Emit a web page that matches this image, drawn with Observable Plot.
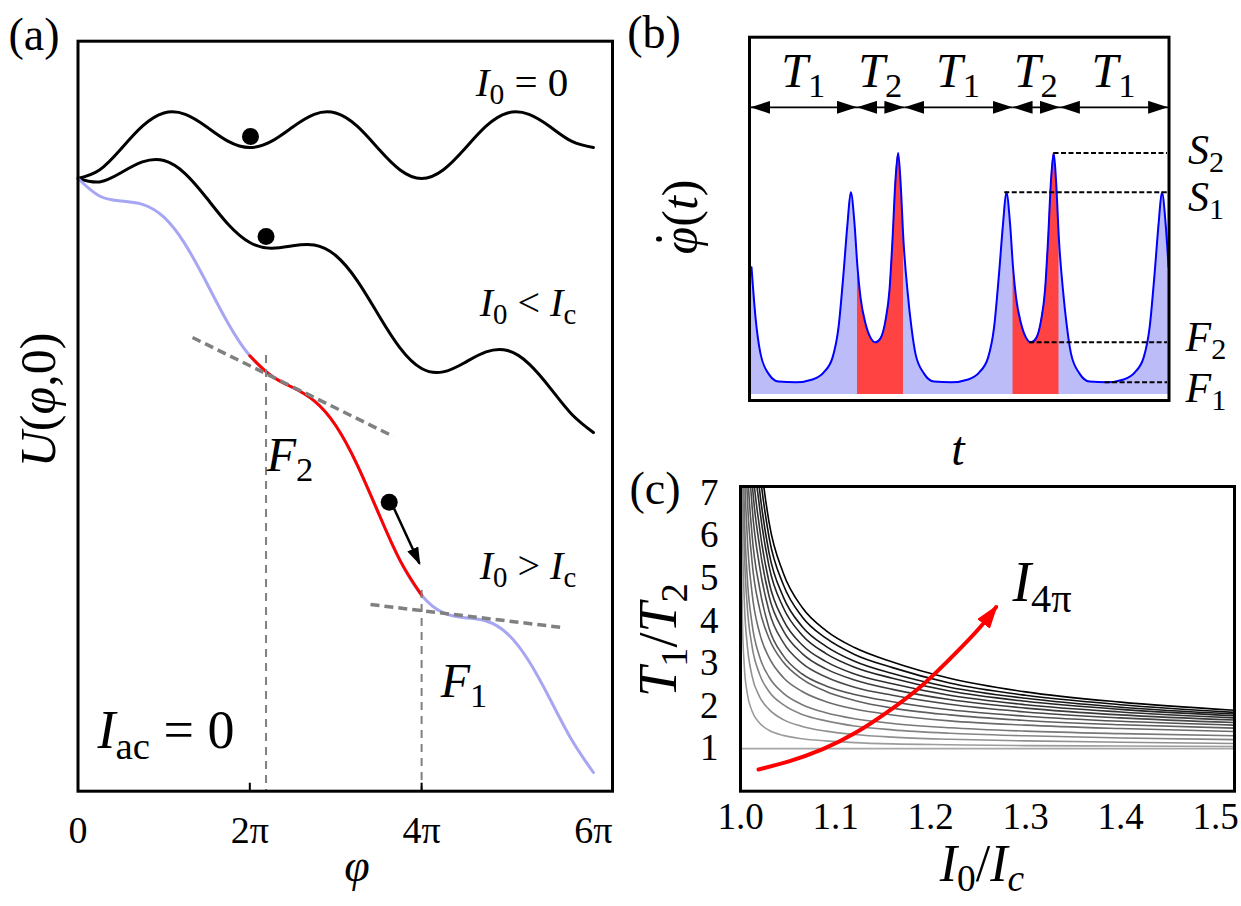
<!DOCTYPE html>
<html><head><meta charset="utf-8">
<script src="https://cdn.jsdelivr.net/npm/d3@7"></script>
<script src="https://cdn.jsdelivr.net/npm/@observablehq/plot@0.6"></script>
<style>
body{margin:0;background:#fff;}
#fig{position:relative;width:1241px;height:906px;overflow:hidden;font-family:"Liberation Serif","DejaVu Serif",serif;background:#fff;}
.panel{position:absolute;}
.lbl{position:absolute;white-space:nowrap;transform:translate(-50%,-50%);line-height:1;color:#000;}
.lbl sub{font-size:0.72em;vertical-align:-0.28em;line-height:0;font-style:normal;}
.lbl sub i{font-style:italic;}
.dotc{position:relative;display:inline-block;}
.dotc b{position:absolute;left:0.25em;top:0.02em;width:0.11em;height:0.11em;border-radius:50%;background:#000;}
</style></head><body><div id="fig"></div>
<script>
// ---------- Panel (a): potential U(phi,0), phi in units of pi ----------
const phi = [0,0.25,0.5,0.75,1,1.25,1.5,1.75,2,2.25,2.5,2.75,3,3.25,3.5,3.75,4,4.25,4.5,4.75,5,5.25,5.5,5.75,6];
const U_I0zero = [0,0.085,0.295,0.523,0.655,0.641,0.515,0.371,0.31,0.371,0.515,0.641,0.655,0.523,0.295,0.085,0,0.085,0.295,0.523,0.655,0.641,0.515,0.371,0.31];
const U_below = [0,-0.034,0.058,0.166,0.18,0.047,-0.198,-0.46,-0.64,-0.697,-0.673,-0.665,-0.77,-1.021,-1.367,-1.696,-1.9,-1.934,-1.842,-1.734,-1.72,-1.853,-2.098,-2.36,-2.54];
const U_above = [0,-0.175,-0.225,-0.259,-0.387,-0.661,-1.048,-1.452,-1.773,-1.972,-2.09,-2.224,-2.47,-2.863,-3.35,-3.821,-4.167,-4.342,-4.392,-4.425,-4.553,-4.828,-5.215,-5.618,-5.94];
const redRange = [2, 4];               // red part of the I0>Ic curve (phi/pi)
const tanStartPhi = [1.333, 3.405], tanStartU = [-1.59, -4.26];
const tanEndPhi = [3.673, 5.64],   tanEndU = [-2.58, -4.49];
const dropPhi = [2.189, 4.0], dropTopU = [-1.77, -4.12];
const ballPhi = [2.008, 2.189, 3.623], ballU = [0.42, -0.58, -3.237];
const kickPhi = [3.679, 3.975], kickU = [-3.30, -3.85];
const phiTicks = [0, 2, 4, 6];
const phiMinorTicks = [2, 4];

// ---------- Panel (b): phase velocity vs t ----------
const tB = [0.20,0.60,1.10,1.90,2.90,4.60,6.31,7.41,8.31,8.91,9.41,9.81,10.14,10.51,10.81,11.11,11.61,12.11,12.61,13.11,13.61,14.01,14.31,14.61,14.88,15.11,15.41,15.81,16.21,16.61,
 17.47,18.47,20.17,21.88,22.98,23.88,24.48,24.98,25.38,25.71,26.08,26.38,26.68,27.18,27.68,28.18,28.68,29.18,29.58,29.88,30.18,30.45,30.68,30.98,31.38,31.78,32.18,
 33.04,34.04,35.74,37.45,38.55,39.45,40.05,40.55,40.95,41.28,41.65,41.95];
const vB = [3.67,2.29,1.29,0.74,0.52,0.50,0.58,0.77,1.18,2.01,3.50,4.87,5.73,4.87,3.66,2.84,2.12,1.73,1.60,1.71,2.20,3.03,4.40,6.06,6.81,6.06,4.40,3.03,2.01,1.29,
 0.74,0.52,0.50,0.58,0.77,1.18,2.01,3.50,4.87,5.73,4.87,3.66,2.84,2.12,1.73,1.60,1.71,2.20,3.03,4.40,6.06,6.81,6.06,4.40,3.03,2.01,1.29,
 0.74,0.52,0.50,0.58,0.77,1.18,2.01,3.50,4.87,5.73,4.87,3.66];
const fillBase = 0.165;
const redSpansStart = [10.81, 26.38], redSpansEnd = [15.41, 30.98];
const levelNames = ["S2","S1","F2","F1"];
const levelV = [6.81, 5.73, 1.60, 0.50];
const levelFrom = [30.43, 25.5, 27.99, 35.54];
const levelTo = 41.79;
const levelLabelY = [150, 197, 337, 388];
const spanEdges = [0.1, 10.76, 15.5, 26.33, 31.07, 41.9];
const spanNames = ["1","2","1","2","1"];
const spanLevel = 8.07;

// ---------- Panel (c): T1/T2 vs I0/Ic ----------
const cX = [1.001,1.002,1.004,1.007,1.012,1.02,1.03,1.045,1.065,1.09,1.12,1.16,1.22,1.3,1.4,1.52];
const c0 = [1,1,1,1,1,1,1,1,1,1,1,1,1,1,1,1];
const c1 = [5.58,4.01,2.93,2.31,1.89,1.60,1.43,1.31,1.23,1.18,1.14,1.11,1.09,1.07,1.06,1.05];
const c2 = [8.73,6.22,4.46,3.45,2.72,2.22,1.92,1.68,1.52,1.41,1.33,1.27,1.22,1.18,1.15,1.12];
const c3 = [11.22,7.98,5.70,4.37,3.42,2.75,2.34,2.03,1.80,1.65,1.53,1.44,1.36,1.30,1.25,1.21];
const c4 = [13.05,9.26,6.61,5.06,3.95,3.16,2.68,2.30,2.03,1.84,1.70,1.59,1.49,1.41,1.35,1.30];
const c5 = [15.61,11.08,7.89,6.03,4.68,3.72,3.14,2.67,2.34,2.10,1.93,1.79,1.65,1.55,1.47,1.40];
const c6 = [18.22,12.92,9.18,7.00,5.42,4.29,3.59,3.03,2.63,2.34,2.13,1.95,1.79,1.66,1.56,1.48];
const c7 = [20.49,14.52,10.32,7.85,6.06,4.78,3.83,3.18,2.75,2.47,2.27,2.10,1.91,1.76,1.64,1.55];
const c8 = [22.87,16.20,11.50,8.74,6.74,5.29,4.23,3.49,3.00,2.68,2.44,2.25,2.04,1.86,1.72,1.61];
const c9 = [25.02,17.72,12.57,9.55,7.35,5.76,4.58,3.77,3.23,2.87,2.61,2.39,2.15,1.95,1.79,1.67];
const c10 = [27.01,19.13,13.57,10.29,7.91,6.19,4.91,4.02,3.43,3.04,2.75,2.52,2.25,2.03,1.86,1.72];
const c11 = [29.23,20.70,14.67,11.12,8.54,6.67,5.28,4.31,3.66,3.23,2.91,2.65,2.35,2.11,1.92,1.77];
const c12 = [31.23,22.10,15.66,11.86,9.10,7.09,5.60,4.56,3.86,3.40,3.05,2.76,2.44,2.18,1.97,1.81];
const c13 = [33.54,23.73,16.80,12.73,9.75,7.59,5.97,4.85,4.09,3.59,3.21,2.90,2.54,2.25,2.03,1.85];
const c14 = [35.61,25.18,17.82,13.50,10.34,8.04,6.32,5.12,4.31,3.77,3.37,3.03,2.65,2.33,2.09,1.90];
const curvesC = [c0,c1,c2,c3,c4,c5,c6,c7,c8,c9,c10,c11,c12,c13,c14];
const arrowX = [1.019,1.051,1.086,1.121,1.156,1.192,1.227,1.252,1.269];
const arrowY = [0.51,0.70,0.98,1.37,1.88,2.50,3.25,3.84,4.32];
const cXTicks = [1.0,1.1,1.2,1.3,1.4,1.5];
const cYTicks = [1,2,3,4,5,6,7];

// ---------- helpers ----------
const SVGNS = "http://www.w3.org/2000/svg";
function headMarker(len, hw, over) {
  return (color, context) => {
    const doc = (context && context.document) || document;
    const m = doc.createElementNS(SVGNS, "marker");
    m.setAttribute("viewBox", `${-len + over} ${-hw} ${len} ${2 * hw}`);
    m.setAttribute("markerWidth", len);
    m.setAttribute("markerHeight", 2 * hw);
    m.setAttribute("markerUnits", "userSpaceOnUse");
    m.setAttribute("orient", "auto-start-reverse");
    m.setAttribute("refX", 0);
    m.setAttribute("refY", 0);
    const p = doc.createElementNS(SVGNS, "path");
    p.setAttribute("d", `M${-len + over},${-hw}L${over},0L${-len + over},${hw}Z`);
    p.setAttribute("fill", color);
    p.setAttribute("stroke", "none");
    m.appendChild(p);
    return m;
  };
}
const fig = document.getElementById("fig");
function place(node, left, top) {
  const w = document.createElement("div");
  w.className = "panel"; w.style.left = left + "px"; w.style.top = top + "px";
  w.appendChild(node); fig.appendChild(w);
}
function label(x, y, html, size, rot) {
  const d = document.createElement("div");
  d.className = "lbl";
  d.style.left = x + "px"; d.style.top = y + "px"; d.style.fontSize = size + "px";
  if (rot) d.style.transform = "translate(-50%,-50%) rotate(-90deg)";
  d.innerHTML = html;
  fig.appendChild(d);
}
const styleOf = fs => ({fontSize: fs + "px", fontFamily: "Liberation Serif, DejaVu Serif, serif", background: "transparent", overflow: "visible"});

// ---------- build panel (a) ----------
const rowsA = phi.map((p, i) => ({phi: p, u0: U_I0zero[i], u1: U_below[i], u2: U_above[i]}));
const redRows = rowsA.filter(d => d.phi >= redRange[0] && d.phi <= redRange[1]);
const tangents = tanStartPhi.map((p, i) => ({x1: p, y1: tanStartU[i], x2: tanEndPhi[i], y2: tanEndU[i]}));
const drops = dropPhi.map((p, i) => ({phi: p, top: dropTopU[i]}));
const balls = ballPhi.map((p, i) => ({phi: p, u: ballU[i]}));
const kick = [{x1: kickPhi[0], y1: kickU[0], x2: kickPhi[1], y2: kickU[1]}];
const yA = [-6.127, 1.373];
const plotA = Plot.plot({
  width: 620, height: 906,
  marginLeft: 77.5, marginRight: 8, marginTop: 40.7, marginBottom: 115.3,
  x: {domain: [0, 6.222]}, y: {domain: yA, axis: null},
  style: styleOf(38),
  marks: [
    Plot.line(rowsA, {x: "phi", y: "u0", stroke: "black", strokeWidth: 3, curve: "natural"}),
    Plot.line(rowsA, {x: "phi", y: "u1", stroke: "black", strokeWidth: 3, curve: "natural"}),
    Plot.line(rowsA, {x: "phi", y: "u2", stroke: "#a6a6f2", strokeWidth: 3, curve: "natural"}),
    Plot.line(redRows, {x: "phi", y: "u2", stroke: "#ff0000", strokeWidth: 3, curve: "natural"}),
    Plot.link(tangents, {x1: "x1", y1: "y1", x2: "x2", y2: "y2", stroke: "#808080", strokeWidth: 3.5, strokeDasharray: "9,5"}),
    Plot.ruleX(drops, {x: "phi", y1: "top", y2: () => yA[0], stroke: "#808080", strokeWidth: 2, strokeDasharray: "8,6"}),
    Plot.ruleX(phiMinorTicks, {x: d => d, y1: () => yA[0], y2: () => yA[0] + 0.08, stroke: "black", strokeWidth: 2}),
    Plot.dot(balls, {x: "phi", y: "u", r: 8.5, fill: "black"}),
    Plot.link(kick, {x1: "x1", y1: "y1", x2: "x2", y2: "y2", stroke: "black", strokeWidth: 2.5, markerEnd: headMarker(18, 6, 2)}),
    Plot.frame({stroke: "black", strokeWidth: 3}),
    Plot.axisX({ticks: phiTicks, tickFormat: d => d === 0 ? "0" : `${d}π`, tickSize: 0, tickPadding: 25, label: null})
  ]
});
place(plotA, 0, 0);

// ---------- build panel (b) ----------
const rowsB = tB.map((t, i) => ({t, v: vB[i]}));
const redFills = redSpansStart.map((s, j) => rowsB.filter(d => d.t >= s && d.t <= redSpansEnd[j]));
const levels = levelNames.map((n, i) => ({name: n, v: levelV[i], from: levelFrom[i], to: levelTo}));
const spans = spanNames.map((n, i) => ({n, a: spanEdges[i], b: spanEdges[i + 1]}));
const plotB = Plot.plot({
  width: 621, height: 470,
  marginLeft: 129, marginRight: 72.5, marginTop: 36.7, marginBottom: 70,
  x: {domain: [0, 41.99], axis: null}, y: {domain: [0, 10], axis: null},
  style: styleOf(34),
  marks: [
    Plot.areaY(rowsB, {x: "t", y1: () => fillBase, y2: "v", fill: "#bcbcf8", curve: "monotone-x"}),
    ...redFills.map(r => Plot.areaY(r, {x: "t", y1: () => fillBase, y2: "v", fill: "#ff4242", curve: "monotone-x"})),
    Plot.line(rowsB, {x: "t", y: "v", stroke: "#0000ff", strokeWidth: 2, curve: "monotone-x"}),
    Plot.link(levels, {x1: "from", x2: "to", y1: "v", y2: "v", stroke: "black", strokeWidth: 2, strokeDasharray: "5,2.5"}),
    Plot.link(spans, {x1: "a", x2: "b", y1: () => spanLevel, y2: () => spanLevel, stroke: "black", strokeWidth: 1.8,
      markerStart: headMarker(20, 6.5, 0), markerEnd: headMarker(20, 6.5, 0)}),
    Plot.frame({stroke: "black", strokeWidth: 3})
  ]
});
place(plotB, 620, 0);

// ---------- build panel (c) ----------
const grey = d3.interpolateRgb("#a8a8a8", "#000000");
const arrowRows = arrowX.map((x, i) => ({x, y: arrowY[i]}));
const plotC = Plot.plot({
  width: 621, height: 436,
  marginLeft: 120, marginRight: 7, marginTop: 16, marginBottom: 115.3,
  x: {domain: [1, 1.52]}, y: {domain: [0, 7.15]},
  style: styleOf(37),
  marks: [
    ...curvesC.map((vals, k) => Plot.line(cX, {x: d => d, y: (d, i) => vals[i], stroke: grey(k / (curvesC.length - 1)),
      strokeWidth: 1.6, curve: "monotone-x", clip: true})),
    Plot.line(arrowRows, {x: "x", y: "y", stroke: "#ff0000", strokeWidth: 4, curve: "natural", markerEnd: headMarker(24, 8, 3)}),
    Plot.frame({stroke: "black", strokeWidth: 3}),
    Plot.axisY({ticks: cYTicks, tickSize: 0, tickPadding: 22, label: null}),
    Plot.axisX({ticks: cXTicks, tickFormat: d3.format(".1f"), tickSize: 0, tickPadding: 12, label: null})
  ]
});
place(plotC, 620, 470);

// ---------- text labels ----------
label(34, 35, "(a)", 46);
label(654, 33, "(b)", 46);
label(655, 489, "(c)", 46);
label(522, 82, "<i>I</i><sub>0</sub>&nbsp;=&nbsp;0", 41);
label(528, 303, "<i>I</i><sub>0</sub> &lt; <i>I</i><sub>c</sub>", 40);
label(528, 566, "<i>I</i><sub>0</sub> &gt; <i>I</i><sub>c</sub>", 40);
label(166, 730, "<i>I</i><sub>ac</sub>&nbsp;=&nbsp;0", 54);
label(290, 455, "<i>F</i><sub>2</sub>", 48);
label(464, 681, "<i>F</i><sub>1</sub>", 48);
label(357, 866, "<i>φ</i>", 46);
label(38, 400, "<i>U</i>(<i>φ</i>,0)", 50, true);
const sxB = plotB.scale("x");
spans.forEach(s => label(620 + sxB.apply((s.a + s.b) / 2), 71, `<i>T</i><sub>${s.n}</sub>`, 48));
levels.forEach((l, i) => label(1206, levelLabelY[i], `<i>${l.name[0]}</i><sub>${l.name[1]}</sub>`, 42));
label(680, 217, "<span class='dotc'><i>φ</i><b></b></span>(<i>t</i>)", 50, true);
label(958, 449, "<i>t</i>", 48);
label(658, 640, "<i>T</i><sub>1</sub>/<i>T</i><sub>2</sub>", 54, true);
label(982, 864, "<i>I</i><sub>0</sub>/<i>I</i><sub><i>c</i></sub>", 52);
label(1042, 582, "<i>I</i><sub>4π</sub>", 56);
</script></body></html>
